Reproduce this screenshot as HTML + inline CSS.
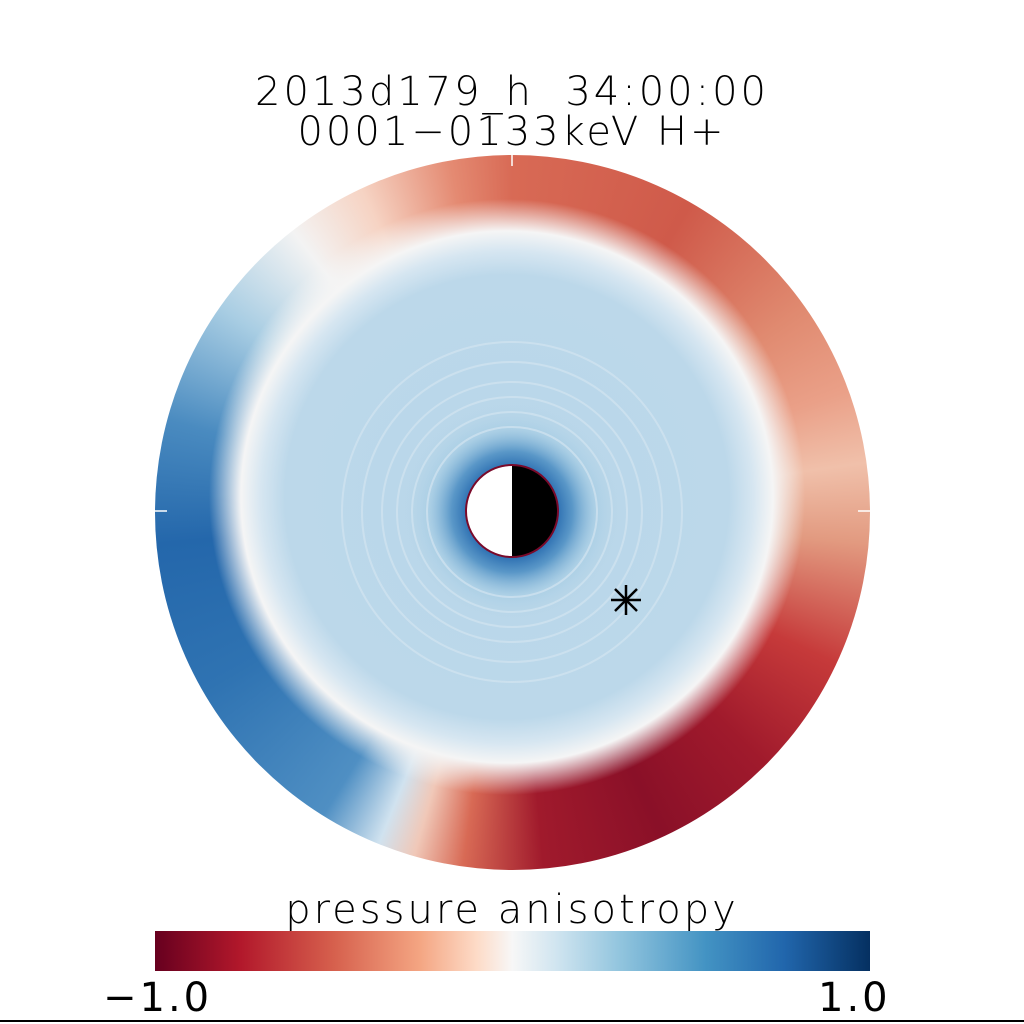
<!DOCTYPE html>
<html><head><meta charset="utf-8"><style>
html,body{margin:0;padding:0;background:#fff;}
#w{position:relative;width:1024px;height:1024px;overflow:hidden;font-family:"DejaVu Sans","Liberation Sans",sans-serif;}
.t{position:absolute;left:0;width:1024px;text-align:center;font-size:40px;color:#000;line-height:1;letter-spacing:3px;font-weight:300;}
#disk{position:absolute;left:155px;top:155px;width:715px;height:715px;border-radius:50%;overflow:hidden;
background:conic-gradient(from 0deg,#d86a55 0deg,#cf5a4a 30deg,#e08a70 55deg,#eaa088 70deg,#f0c0aa 82deg,#e29a80 95deg,#c63a3a 115deg,#a01a2c 135deg,#8a1028 155deg,#a01a2c 175deg,#d86a55 188deg,#f0c8b8 196deg,#d0e2ef 202deg,#4f8fc3 212deg,#2f73b2 240deg,#2467ab 265deg,#4a8bc0 285deg,#a8cde3 305deg,#f3f3f3 322deg,#f6d3c3 335deg,#e48a72 350deg,#d86a55 360deg);}
#inner{position:absolute;left:-40px;top:-40px;width:800px;height:800px;border-radius:50%;
background:radial-gradient(circle at 392px 382px,#b8d6e9 0,#bcd8ea 222px,#d6e6f1 246px,#f5f5f5 266px,rgba(247,247,247,0) 298px);}
#rings{position:absolute;left:0;top:0;width:715px;height:715px;}
#cb{position:absolute;left:155px;top:931px;width:715px;height:40px;
background:linear-gradient(to right,#67001f 0%,#b2182b 12%,#d6604d 25%,#f4a582 37%,#fddbc7 45%,#f7f7f7 50%,#d1e5f0 56%,#92c5de 65%,#4393c3 77%,#2166ac 88%,#053061 100%);}
.lab{position:absolute;font-size:40px;top:978px;line-height:1;letter-spacing:3px;}
</style></head><body><div id="w">
<div class="t" style="top:72px">2013d179_h&nbsp;&nbsp;34:00:00</div>
<div class="t" style="top:112px">0001−0133keV H+</div>
<div id="disk">
<div id="inner"></div>
<svg id="rings" viewBox="0 0 715 715">
<defs><radialGradient id="cg" cx="357" cy="357" r="110" gradientUnits="userSpaceOnUse">
<stop offset="0.40" stop-color="#2a6db0" stop-opacity="1"/>
<stop offset="0.55" stop-color="#4f90c4" stop-opacity="0.9"/>
<stop offset="0.75" stop-color="#9cc7e1" stop-opacity="0.5"/>
<stop offset="1" stop-color="#b8d6e9" stop-opacity="0"/></radialGradient></defs>
<circle cx="357" cy="357" r="110" fill="url(#cg)"/>
<g fill="none" stroke="#d3e5f1" stroke-width="2" opacity="0.7">
<circle cx="357" cy="357" r="85"/><circle cx="357" cy="357" r="100"/><circle cx="357" cy="357" r="115"/><circle cx="357" cy="357" r="130"/><circle cx="357" cy="357" r="150"/><circle cx="357" cy="357" r="170"/>
</g>
</svg>
</div>
<svg style="position:absolute;left:0;top:0" width="1024" height="1024">
<path d="M512 465 A46 46 0 0 1 512 557 Z" fill="#000"/>
<path d="M512 465 A46 46 0 0 0 512 557 Z" fill="#fff"/>
<circle cx="512" cy="511" r="46" fill="none" stroke="#7a0a2a" stroke-width="2"/>
<g stroke="#fff" stroke-width="1.5"><line x1="512" y1="155" x2="512" y2="166"/><line x1="155" y1="511" x2="167" y2="511"/><line x1="870" y1="511" x2="858" y2="511"/></g>
<g stroke="#000" stroke-width="2.5"><line x1="626" y1="585" x2="626" y2="615"/><line x1="611" y1="600" x2="641" y2="600"/><line x1="615" y1="589" x2="637" y2="611"/><line x1="637" y1="589" x2="615" y2="611"/></g>
<line x1="0" y1="1021" x2="1024" y2="1021" stroke="#000" stroke-width="2"/>
</svg>
<div class="t" style="top:890px">pressure anisotropy</div>
<div id="cb"></div>
<div class="lab" style="left:103px">−1.0</div>
<div class="lab" style="left:818px">1.0</div>
</div></body></html>
